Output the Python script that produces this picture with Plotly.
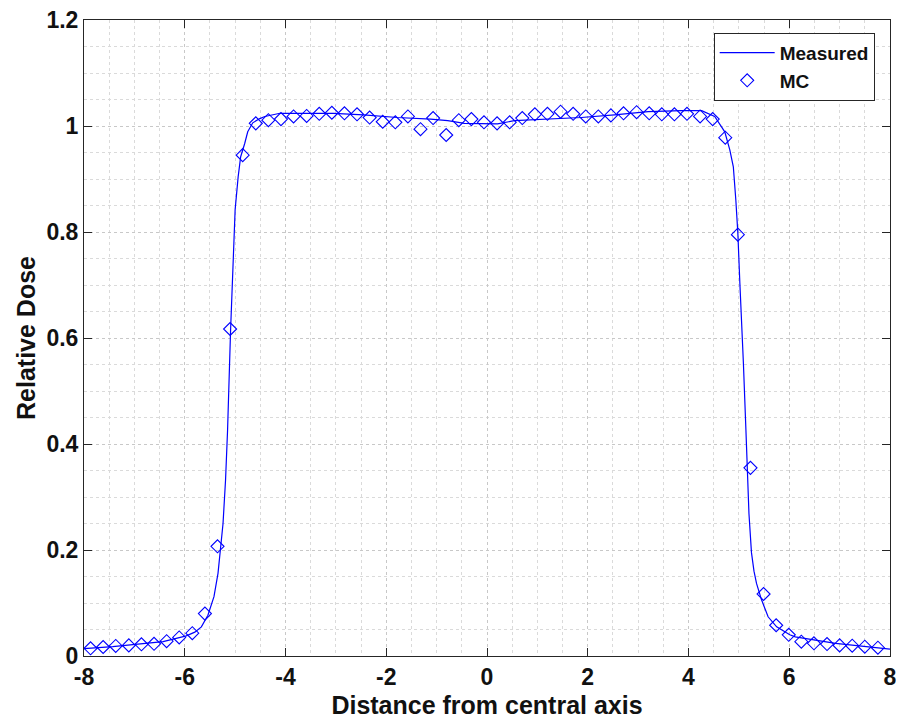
import plotly.graph_objects as go

# Measured profile
meas_x = [-8.0, -7.43, -6.43, -5.97, -5.80, -5.67, -5.54, -5.42, -5.34, -5.29, -5.24, -5.19,
          -5.15, -5.09, -5.07, -5.04, -5.00, -4.94, -4.89, -4.81, -4.75, -4.65, -4.51, -4.41,
          -4.11, -3.57, -3.04, -2.45, -1.78, -1.12, -0.78, -0.45, -0.12, 0.21, 0.54, 1.21,
          1.87, 2.53, 3.20, 3.86, 4.26, 4.52, 4.72, 4.82, 4.89, 4.94, 4.98, 5.02, 5.06, 5.09,
          5.14, 5.17, 5.20, 5.25, 5.30, 5.35, 5.45, 5.58, 5.75, 6.01, 6.12, 6.92, 8.0]
meas_y = [0.014, 0.0176, 0.027, 0.038, 0.045, 0.055, 0.077, 0.112, 0.156, 0.206, 0.250, 0.332,
          0.426, 0.615, 0.672, 0.766, 0.842, 0.904, 0.942, 0.967, 0.989, 1.006, 1.014, 1.018,
          1.024, 1.024, 1.024, 1.021, 1.016, 1.013, 1.010, 1.005, 1.005, 1.004, 1.010, 1.013,
          1.016, 1.021, 1.027, 1.029, 1.029, 1.018, 0.989, 0.955, 0.923, 0.860, 0.797, 0.703,
          0.596, 0.552, 0.426, 0.357, 0.269, 0.195, 0.160, 0.137, 0.106, 0.074, 0.055, 0.040,
          0.036, 0.024, 0.013]

# Monte Carlo points
mc_x = [-7.87, -7.62, -7.37, -7.11, -6.86, -6.61, -6.36, -6.11, -5.85, -5.60, -5.35, -5.10,
        -4.85, -4.59, -4.34, -4.09, -3.84, -3.58, -3.33, -3.08, -2.83, -2.58, -2.33, -2.07,
        -1.82, -1.57, -1.32, -1.07, -0.81, -0.56, -0.31, -0.06, 0.20, 0.45, 0.70, 0.95,
        1.20, 1.46, 1.71, 1.96, 2.21, 2.46, 2.71, 2.97, 3.22, 3.47, 3.72, 3.97,
        4.23, 4.48, 4.73, 4.98, 5.23, 5.49, 5.74, 5.99, 6.24, 6.49, 6.75, 7.00,
        7.25, 7.50, 7.76]
mc_y = [0.0145, 0.017, 0.019, 0.020, 0.022, 0.023, 0.028, 0.035, 0.043, 0.080, 0.207, 0.617,
        0.945, 1.005, 1.011, 1.013, 1.018, 1.019, 1.023, 1.025, 1.024, 1.022, 1.016, 1.008,
        1.007, 1.018, 0.994, 1.015, 0.983, 1.011, 1.013, 1.007, 1.005, 1.007, 1.015, 1.022,
        1.023, 1.027, 1.023, 1.018, 1.018, 1.020, 1.024, 1.026, 1.024, 1.022, 1.022, 1.023,
        1.018, 1.013, 0.978, 0.795, 0.355, 0.117, 0.058, 0.040, 0.027, 0.024, 0.0226, 0.020,
        0.0195, 0.0176, 0.0157]

x_tickvals = [-8, -6, -4, -2, 0, 2, 4, 6, 8]
x_ticktext = ["-8", "-6", "-4", "-2", "0", "2", "4", "6", "8"]
y_tickvals = [0, 0.2, 0.4, 0.6, 0.8, 1.0, 1.2]
y_ticktext = ["0", "0.2", "0.4", "0.6", "0.8", "1", "1.2"]

FONT = "Liberation Sans, Arial, Helvetica, sans-serif"
TXT = "#111111"
AX = "#262626"

fig = go.Figure()
fig.add_trace(go.Scatter(x=meas_x, y=meas_y, mode="lines", name="Measured",
                         line=dict(color="#0000ff", width=1.2)))
fig.add_trace(go.Scatter(x=mc_x, y=mc_y, mode="markers", name="MC",
                         marker=dict(symbol="diamond-open", size=10, color="#0000ff",
                                     line=dict(width=1.1, color="#0000ff"))))

axis_common = dict(
    showline=True, linecolor=AX, linewidth=1, mirror="ticks",
    ticks="inside", ticklen=8, tickcolor=AX, tickwidth=1,
    showgrid=True, gridcolor="#c8c8c8", griddash="dot", gridwidth=1,
    zeroline=False, automargin=False, ticklabeloverflow="allow",
    tickfont=dict(family=FONT, size=23, color=TXT, weight="bold"),
)

fig.update_xaxes(range=[-8, 8], tickmode="array", tickvals=x_tickvals, ticktext=x_ticktext,
                 minor=dict(dtick=0.5, showgrid=True, gridcolor="#dadada", griddash="dot",
                            gridwidth=1, ticks=""),
                 title=dict(text="Distance from central axis",
                            font=dict(family=FONT, size=25, color=TXT, weight="bold"),
                            standoff=10),
                 **axis_common)
fig.update_yaxes(range=[0, 1.2], tickmode="array", tickvals=y_tickvals, ticktext=y_ticktext,
                 minor=dict(dtick=0.05, showgrid=True, gridcolor="#dadada", griddash="dot",
                            gridwidth=1, ticks=""),
                 title=dict(text="Relative Dose",
                            font=dict(family=FONT, size=25, color=TXT, weight="bold"),
                            standoff=3),
                 **axis_common)

fig.update_layout(
    width=896, height=711,
    margin=dict(l=76, r=14, t=12, b=63),
    paper_bgcolor="white", plot_bgcolor="white",
    font=dict(family=FONT, color=TXT, weight="bold"),
    legend=dict(x=0.981, y=0.98, xanchor="right", yanchor="top",
                bgcolor="white", bordercolor=AX, borderwidth=1,
                font=dict(family=FONT, size=19, color=TXT, weight="bold"),
                tracegroupgap=0, itemwidth=55),
    showlegend=True,
)

fig.write_html("out.html")
